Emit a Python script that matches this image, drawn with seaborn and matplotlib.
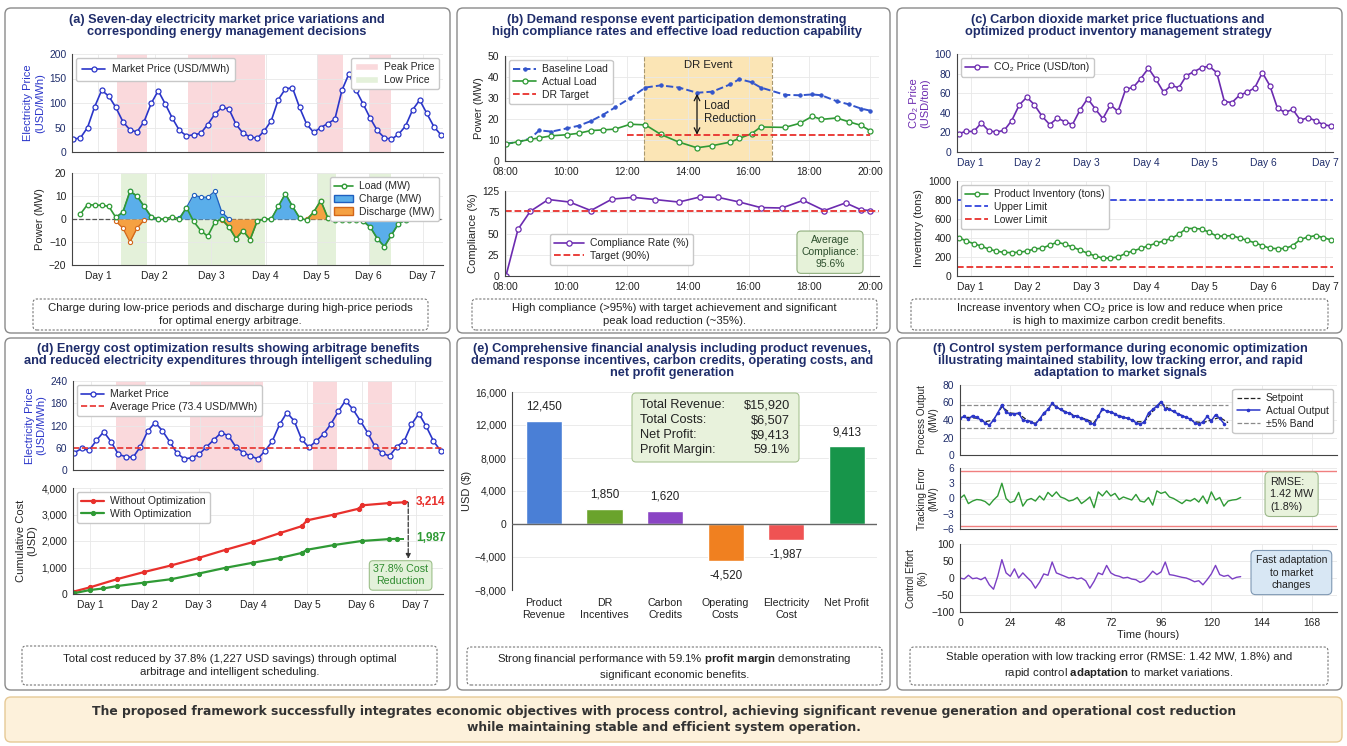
import numpy as np
import matplotlib
matplotlib.use("Agg")
import matplotlib.pyplot as plt
import seaborn as sns
from matplotlib.patches import FancyBboxPatch, Patch
from matplotlib.lines import Line2D
from matplotlib.transforms import Affine2D
from matplotlib.ticker import FuncFormatter

# ---------------- (a) price and storage decisions ----------------
price_a = [26, 29, 50, 92, 126, 114, 91, 62, 45, 41, 62, 99, 125, 98, 69, 44, 33, 35, 38, 56,
           77, 91, 88, 57, 38, 31, 28, 43, 64, 107, 129, 131, 91, 57, 40, 50, 58, 67, 126, 160,
           126, 98, 69, 44, 29, 26, 36, 53, 86, 106, 79, 52, 35]
load_a_start = 1
load_a = [2.2, 6.3, 6, 6, 5.5, 0.7, 3, 12, 10, 5.5, 1, 0, 0, 1, 0, 5, -1, -5, -7.5, -1.5,
          0, -3.5, -8.5, -5, -9, -1, 0, 0, 5.5, 11, 5.5, 0.5, -0.5, 3, 8, 0.5, -0.5, -0.5,
          -0.5, -0.5, -1, -3.5, -8.5, -12, -7, -2, -0.5]
charge_segments = [(6, [0.7, 3, 12, 10, 5.5, 1, 0]),
                   (15, [0.5, 5, 10.5, 9.5, 9.5, 12, 3, 0]),
                   (28, [0, 5.5, 11, 5.5, 0.5]),
                   (41, [-1, -3.5, -8.5, -12, -7, -2, -0.5])]
discharge_segments = [(6, [-1, -4, -10, -4, -0.5]),
                      (21, [-0.5, -3.5, -8.5, -5, -9, -1]),
                      (33, [0, 3, 8, 0.5])]
peak_spans_a = [(6.1, 10.4), (16.2, 27.1), (34.5, 38.2), (41.8, 45.0)]
low_spans_a = [(6.8, 10.4), (16.2, 27.1), (34.5, 37.2), (41.8, 45.0)]
day_labels = ["Day 1", "Day 2", "Day 3", "Day 4", "Day 5", "Day 6", "Day 7"]
day_ticks_a = [3.5, 11.5, 19.5, 27.2, 34.4, 41.8, 49.4]

# ---------------- (b) demand response event ----------------
load_hours = [8.0, 8.4, 8.8, 9.1, 9.5, 10.0, 10.4, 10.8, 11.2, 11.6, 12.1, 12.6, 13.1, 13.7,
              14.3, 14.8, 15.4, 15.7, 16.1, 16.4, 17.2, 17.7, 18.1, 18.4, 18.9, 19.3, 19.7, 20.0]
baseline_load = [8.3, 9, 10.7, 14.6, 14, 15.5, 16.8, 19, 22, 25.5, 30, 35, 36, 35, 32.5, 33,
                 36.5, 39, 37.5, 35, 31.5, 31.3, 31.7, 31.3, 28.5, 27, 25, 24]
actual_load = [8, 9.2, 10.3, 11, 12, 12.5, 13.2, 14.5, 14.8, 15.2, 17.5, 17.2, 12.7, 9, 6.3,
               7.3, 9, 10.8, 13, 16.2, 16, 18, 21.3, 19.8, 20.5, 18.7, 17, 14.5]
dr_target = 12.5
dr_target_start = 12.0
dr_event = (12.56, 16.77)
compliance_hours = [8.0, 8.4, 8.8, 9.4, 10.1, 10.8, 11.5, 12.2, 12.9, 13.7, 14.4, 15.0, 15.7,
                    16.4, 17.1, 17.8, 18.5, 19.2, 19.7, 20.0]
compliance = [0, 55, 76, 90, 87, 77, 90.5, 92.5, 90, 87, 93, 92.5, 87, 80.5, 80, 89, 77, 86,
              78, 77]
compliance_target = 77
hour_ticks = [8, 10, 12, 14, 16, 18, 20]
hour_labels = ["08:00", "10:00", "12:00", "14:00", "16:00", "18:00", "20:00"]
compliance_ticks = [0, 25, 50, 75, 100]
compliance_tick_labels = ["0", "25", "50", "75", "125"]

# ---------------- (c) CO2 price and inventory ----------------
co2_price = [18.8, 21, 21, 29.5, 21.5, 20.5, 22, 32, 48, 56, 48, 36.5, 28, 34.5, 31, 28, 43,
             54.5, 44, 34, 48, 41.5, 64, 66, 75, 85.5, 74, 61, 68, 65.5, 78, 82, 86, 87.5, 81,
             51.5, 50.5, 58, 61, 65.5, 81, 67.5, 44.5, 40.5, 43.5, 32.5, 35, 32, 28, 26.5]
inventory = [403, 370, 340, 315, 282, 262, 248, 246, 250, 262, 285, 292, 325, 355, 335, 305,
             272, 240, 210, 188, 190, 200, 238, 265, 290, 318, 345, 368, 395, 440, 500, 500,
             495, 460, 420, 420, 425, 400, 375, 350, 320, 292, 288, 290, 320, 385, 410, 425,
             405, 380]
inv_upper = 800
inv_lower = 100
day_ticks_c = [1.6, 9.1, 16.8, 24.7, 32.4, 40.1, 48.3]

# ---------------- (d) energy cost optimisation ----------------
price_d = [47, 58, 53, 80, 103, 76, 42, 36, 34, 63, 105, 128, 106, 76, 45, 30, 33, 42, 62, 81,
           100, 93, 63, 47, 38, 30, 51, 78, 123, 155, 132, 83, 61, 78, 97, 124, 158, 187, 164,
           133, 101, 64, 45, 38, 63, 78, 123, 152, 118, 78, 51]
avg_price_level = 60
peak_spans_d = [(5.7, 9.8), (15.8, 25.8), (32.5, 35.9), (40.1, 43.4)]
day_ticks_d = [2.26, 9.67, 17.1, 24.5, 31.8, 39.2, 46.5]
red_days = [0.7, 1.0, 1.5, 2.0, 2.5, 3.0, 3.5, 4.0, 4.5, 4.9, 5.0, 5.5, 5.95, 6.0, 6.5, 6.78]
cost_without = [90, 250, 560, 830, 1080, 1360, 1670, 1960, 2300, 2560, 2780, 3000, 3220, 3345,
                3430, 3460]
green_days = [0.7, 1.0, 1.25, 1.5, 2.0, 2.5, 3.0, 3.5, 4.0, 4.5, 4.9, 5.0, 5.5, 6.0, 6.5, 6.65]
cost_with = [25, 150, 210, 300, 430, 560, 770, 990, 1180, 1360, 1550, 1670, 1850, 2000, 2070,
             2080]

# ---------------- (e) financial breakdown ----------------
fin_categories = ["Product\nRevenue", "DR\nIncentives", "Carbon\nCredits", "Operating\nCosts",
                  "Electricity\nCost", "Net Profit"]
fin_values = [12450, 1850, 1620, -4520, -1987, 9413]
fin_colors = ["#4a7fd6", "#6aa32c", "#8a44c4", "#f08020", "#ef5353", "#17954a"]
summary_rows = [("Total Revenue:", "$15,920"), ("Total Costs:", "$6,507"),
                ("Net Profit:", "$9,413"), ("Profit Margin:", "59.1%")]

# ---------------- (f) control performance ----------------
output_hours = np.arange(0, 128, 2)
process_output = [42, 44, 41, 45, 43, 40, 37, 34, 40, 48, 57, 49, 47, 47, 48, 40, 39, 38, 35, 41,
                  48, 52, 59, 55, 52, 49, 48, 45, 44, 42, 40, 37, 35, 44, 53, 50, 49, 47, 44, 43,
                  42, 40, 37, 35, 38, 48, 52, 56, 61, 53, 52, 50, 47, 45, 43, 41, 37, 35, 38, 44,
                  39, 46, 42, 36]
setpoint_hours = np.arange(0, 129, 4)
setpoint = [43, 43, 42, 38, 40, 55, 48, 47, 40, 36, 46, 58, 52, 48, 44, 41, 37, 52, 49, 45, 42,
            38, 38, 50, 60, 52, 47, 43, 38, 37, 40, 43, 37]
band_upper, band_lower = 57, 31
err_hours = np.arange(0, 136, 2)
tracking_error = [0, 0.7, -1, -0.5, -0.2, -0.3, -0.6, -1.3, -0.3, 0.5, 3, 0, -0.8, -0.5, 1.2,
                  -1.5, -0.3, 0, -0.5, 0.5, -0.3, 1.2, 0.4, 1.3, 0.3, 0, -0.5, -0.3, 0.2, -1,
                  -0.4, 0.3, -1.8, 1.3, 0.5, 1.5, 0.5, 1, -0.2, 0.3, 0, -0.3, 0.8, -0.5, -0.7,
                  0.2, -1.3, 1.5, 1, 1.3, 0.3, 0, -0.5, -1, -0.3, -0.5, 0, -0.7, 0.5, -1, 1.3,
                  -0.3, 0.2, -1.5, -0.5, -0.3, -0.2, 0.2]
error_limit = 5.5
control_effort = [0, -3, 8, -2, 0, -5, 2, -20, -33, 5, 54, 15, 5, 27, 0, 15, 2, -10, -30, -12,
                  12, 8, 47, 15, 10, 5, 0, 2, -3, 0, -8, -30, -10, 15, 10, 37, 15, 8, 5, 0, 2,
                  -3, -5, -13, -8, 5, 20, 10, 18, 47, 10, 8, 5, 2, 0, -5, -11, -8, -20, -5, 12,
                  37, 10, 5, 8, -3, 2, 4]

# ---------------- style ----------------
sns.set_style("whitegrid")
plt.rcParams["font.family"] = ["Liberation Sans", "DejaVu Sans"]
plt.rcParams["mathtext.fontset"] = "custom"
plt.rcParams["mathtext.rm"] = "Liberation Sans"
plt.rcParams["mathtext.bf"] = "Liberation Sans:bold"

BLUE = "#2a35c9"
GREEN = "#2f9a35"
PURPLE = "#6c2bb0"
RED = "#e8302c"
NAVY = "#1f2d6b"
PINK = "#fad9dc"
LIGHTGREEN = "#e4f1da"
TICK = 7.4
LABEL = 8.0
LEGEND = 7.5

W, H = 1347, 746
fig = plt.figure(figsize=(W / 100, H / 100), dpi=100)
PX = Affine2D().scale(1 / W, 1 / H) + fig.transFigure


def box_ax(x0, y0, x1, y1):
    return fig.add_axes([x0 / W, 1 - y1 / H, (x1 - x0) / W, (y1 - y0) / H])


def tidy(ax, tick_color="#222222"):
    ax.grid(True, color="#e8e8e8", lw=0.6)
    ax.set_axisbelow(True)
    for s in ("top", "right"):
        ax.spines[s].set_visible(False)
    for s in ("left", "bottom"):
        ax.spines[s].set_color("#444444")
        ax.spines[s].set_linewidth(0.8)
    ax.tick_params(labelsize=TICK, length=2.5, width=0.6, pad=1.5, colors="#444444",
                   labelcolor=tick_color)


def leg(ax, **kw):
    opts = dict(fontsize=LEGEND, frameon=True, framealpha=1, edgecolor="#c8c8c8",
                borderpad=0.4, labelspacing=0.25, handlelength=2.2, handletextpad=0.6,
                borderaxespad=0.4)
    opts.update(kw)
    return ax.legend(**opts)


def rbox(x0, y0, x1, y1, fc, ec, lw=1.0, ls="-", r=5, z=-5):
    fig.add_artist(FancyBboxPatch((x0, H - y1), x1 - x0, y1 - y0,
                                  boxstyle=f"round,pad=0,rounding_size={r}", transform=PX,
                                  fc=fc, ec=ec, lw=lw, ls=ls, zorder=z))


def title(cx, top, text):
    fig.text(cx / W, 1 - top / H, text, ha="center", va="top", fontsize=9.2,
             fontweight="bold", color=NAVY, linespacing=1.0)


def caption(x0, y0, x1, y1, text):
    rbox(x0, y0, x1, y1, "white", "#777777", lw=0.8, ls=(0, (2, 1.5)), r=4, z=1)
    fig.text((x0 + x1) / 2 / W, 1 - (y0 + y1) / 2 / H, text, ha="center", va="center",
             fontsize=8.2, color="#222222", linespacing=1.4, zorder=2)


def open_line(ax, x, y, color, label=None, ms=3.6, **kw):
    sns.lineplot(x=x, y=y, ax=ax, color=color, linewidth=1.2, marker="o", markersize=ms,
                 markerfacecolor="white", markeredgecolor=color, markeredgewidth=0.9,
                 label=label, legend=False, **kw)


# panel frames
for x0, y0, x1, y1 in [(5, 8, 450, 333), (457, 8, 890, 333), (897, 8, 1342, 333),
                       (5, 338, 450, 690), (457, 338, 890, 690), (897, 338, 1342, 690)]:
    rbox(x0, y0, x1, y1, "white", "#8a8a8a", lw=1.0, r=6, z=-5)

# ================= (a) =================
title(227, 14, "(a) Seven-day electricity market price variations and\n"
               "corresponding energy management decisions")
x_a = np.arange(len(price_a))
ax = box_ax(72, 54, 443, 152)
tidy(ax, NAVY)
for s, e in peak_spans_a:
    ax.axvspan(s, e, color=PINK, lw=0, zorder=0)
open_line(ax, x_a, price_a, BLUE, label="Market Price (USD/MWh)")
ax.set_xlim(-0.2, 52.3)
ax.set_ylim(0, 200)
ax.set_yticks([0, 50, 100, 150, 200])
ax.set_xticks(day_ticks_a)
ax.set_xticklabels([])
ax.set_xlabel("")
ax.set_ylabel("Electricity Price\n(USD/MWh)", color=BLUE, fontsize=LABEL, labelpad=3)
first = leg(ax, loc="upper left", borderpad=0.6)
ax.add_artist(first)
leg(ax, handles=[Patch(fc=PINK, label="Peak Price"), Patch(fc=LIGHTGREEN, label="Low Price")],
    loc="upper right")

ax = box_ax(72, 173, 443, 265)
tidy(ax)
for s, e in low_spans_a:
    ax.axvspan(s, e, color=LIGHTGREEN, lw=0, zorder=0)
ax.axhline(0, color="#555555", lw=0.9, ls="--", zorder=1)
for start, vals in charge_segments:
    xs = np.arange(start, start + len(vals))
    ax.fill_between(xs, 0, vals, color="#5aaeea", lw=0, zorder=2)
    ax.plot(xs, vals, color="#1f5fbf", lw=0.9, marker="o", ms=3, mfc="white", mec="#1f5fbf",
            mew=0.8, zorder=3)
for start, vals in discharge_segments:
    xs = np.arange(start, start + len(vals))
    ax.fill_between(xs, 0, vals, color="#f5a142", lw=0, zorder=2)
    ax.plot(xs, vals, color="#d2661a", lw=0.9, marker="o", ms=3, mfc="white", mec="#d2661a",
            mew=0.8, zorder=3)
x_load = np.arange(load_a_start, load_a_start + len(load_a))
open_line(ax, x_load, load_a, GREEN, ms=3.3, zorder=4)
ax.set_xlim(-0.2, 52.3)
ax.set_ylim(-20, 20)
ax.set_yticks([-20, -10, 0, 10, 20])
ax.set_xticks(day_ticks_a)
ax.set_xticklabels(day_labels)
ax.set_xlabel("")
ax.set_ylabel("Power (MW)", fontsize=LABEL, labelpad=3)
leg(ax, handles=[Line2D([0], [0], color=GREEN, marker="o", ms=3.3, mfc="white", mec=GREEN,
                        lw=1.2, label="Load (MW)"),
                 Patch(fc="#5aaeea", ec="#1f5fbf", label="Charge (MW)"),
                 Patch(fc="#f5a142", ec="#d2661a", label="Discharge (MW)")],
    loc="upper right", handlelength=1.8)
caption(33, 299, 428, 330, "Charge during low-price periods and discharge during high-price periods\n"
                           "for optimal energy arbitrage.")

# ================= (b) =================
title(677, 14, "(b) Demand response event participation demonstrating\n"
               "high compliance rates and effective load reduction capability")
ax = box_ax(505, 56, 879, 161)
tidy(ax)
ax.axvspan(*dr_event, color="#fbe5b5", lw=0, zorder=0)
for xv in dr_event:
    ax.axvline(xv, color="#a89870", lw=0.8, ls="--", zorder=1)
sns.lineplot(x=load_hours, y=baseline_load, ax=ax, color="#3355cc", linewidth=1.4,
             linestyle="--", marker="o", markersize=2.4, markerfacecolor="#3355cc",
             markeredgecolor="#3355cc", label="Baseline Load", legend=False)
open_line(ax, load_hours, actual_load, GREEN, label="Actual Load", ms=3.6)
ax.hlines(dr_target, dr_target_start, 20.0, color=RED, lw=1.3, ls="--", label="DR Target")
ax.annotate("", xy=(14.3, dr_target), xytext=(14.3, 32.0),
            arrowprops=dict(arrowstyle="<->", color="#111111", lw=0.9, shrinkA=0, shrinkB=0))
ax.text(14.53, 23.2, "Load\nReduction", fontsize=8.3, va="center", ha="left", color="#222222",
        linespacing=1.1)
ax.text(sum(dr_event) / 2, 45.5, "DR Event", fontsize=8.2, ha="center", va="center",
        color="#222222")
ax.set_xlim(7.97, 20.3)
ax.set_ylim(0, 50)
ax.set_yticks([0, 10, 20, 30, 40, 50])
ax.set_xticks(hour_ticks)
ax.set_xticklabels(hour_labels)
ax.set_xlabel("")
ax.set_ylabel("Power (MW)", fontsize=LABEL, labelpad=3)
leg(ax, loc="upper left")

ax = box_ax(505, 191, 879, 276)
tidy(ax)
open_line(ax, compliance_hours, compliance, PURPLE, label="Compliance Rate (%)", ms=3.8)
ax.axhline(compliance_target, color=RED, lw=1.3, ls="--", label="Target (90%)")
ax.set_xlim(7.97, 20.3)
ax.set_ylim(0, 100)
ax.set_yticks(compliance_ticks)
ax.set_yticklabels(compliance_tick_labels)
ax.set_xticks(hour_ticks)
ax.set_xticklabels(hour_labels)
ax.set_xlabel("")
ax.set_ylabel("Compliance (%)", fontsize=LABEL, labelpad=3)
leg(ax, loc="lower left", bbox_to_anchor=(0.11, 0.08), handlelength=2.8)
ax.text(0.869, 0.28, "Average\nCompliance:\n95.6%", transform=ax.transAxes, ha="center",
        va="center", fontsize=7.5, color="#2d4f2d", linespacing=1.25,
        bbox=dict(boxstyle="round,pad=0.4", fc="#e6f2d9", ec="#8fae7c", lw=0.8))
caption(472, 299, 877, 330, "High compliance (>95%) with target achievement and significant\n"
                            "peak load reduction (~35%).")

# ================= (c) =================
title(1118, 14, "(c) Carbon dioxide market price fluctuations and\n"
                "optimized product inventory management strategy")
x_c = np.arange(len(co2_price))
ax = box_ax(957, 54, 1333, 152)
tidy(ax, NAVY)
open_line(ax, x_c, co2_price, PURPLE, label="CO\u2082 Price (USD/ton)")
ax.set_xlim(-0.2, 49.3)
ax.set_ylim(0, 100)
ax.set_yticks([0, 20, 40, 60, 80, 100])
ax.set_xticks(day_ticks_c)
ax.set_xticklabels(day_labels)
ax.set_xlabel("")
ax.set_ylabel("CO\u2082 Price\n(USD/ton)", color=PURPLE, fontsize=LABEL, labelpad=3)
leg(ax, loc="upper left")

ax = box_ax(957, 181, 1333, 276)
tidy(ax)
ax.axhline(inv_upper, color="#3344dd", lw=1.3, ls="--", label="Upper Limit")
ax.axhline(inv_lower, color=RED, lw=1.3, ls="--", label="Lower Limit")
open_line(ax, np.arange(len(inventory)), inventory, GREEN, label="Product Inventory (tons)",
          ms=3.4)
ax.set_xlim(-0.2, 49.3)
ax.set_ylim(0, 1000)
ax.set_yticks([0, 200, 400, 600, 800, 1000])
ax.set_xticks(day_ticks_c)
ax.set_xticklabels(day_labels)
ax.set_xlabel("")
ax.set_ylabel("Inventory (tons)", fontsize=LABEL, labelpad=3)
h, l = ax.get_legend_handles_labels()
order = [l.index("Product Inventory (tons)"), l.index("Upper Limit"), l.index("Lower Limit")]
leg(ax, handles=[h[i] for i in order], labels=[l[i] for i in order], loc="upper left")
caption(911, 299, 1328, 330, "Increase inventory when CO\u2082 price is low and reduce when price\n"
                             "is high to maximize carbon credit benefits.")

# ================= (d) =================
title(228, 343, "(d) Energy cost optimization results showing arbitrage benefits\n"
                "and reduced electricity expenditures through intelligent scheduling")
ax = box_ax(73, 381, 443, 470)
tidy(ax, NAVY)
for s, e in peak_spans_d:
    ax.axvspan(s, e, color=PINK, lw=0, zorder=0)
open_line(ax, np.arange(len(price_d)), price_d, BLUE, label="Market Price")
ax.axhline(avg_price_level, color=RED, lw=1.2, ls="--", label="Average Price (73.4 USD/MWh)")
ax.set_xlim(-0.2, 50.3)
ax.set_ylim(0, 240)
ax.set_yticks([0, 60, 120, 180, 240])
ax.set_xticks(day_ticks_d)
ax.set_xticklabels([])
ax.set_xlabel("")
ax.set_ylabel("Electricity Price\n(USD/MWh)", color=BLUE, fontsize=LABEL, labelpad=3)
leg(ax, loc="upper left")

ax = box_ax(73, 488, 443, 594)
tidy(ax)
sns.lineplot(x=red_days, y=cost_without, ax=ax, color=RED, linewidth=1.6, marker="o",
             markersize=3, markerfacecolor=RED, markeredgecolor=RED,
             label="Without Optimization", legend=False)
sns.lineplot(x=green_days, y=cost_with, ax=ax, color=GREEN, linewidth=1.6, marker="o",
             markersize=3, markerfacecolor=GREEN, markeredgecolor=GREEN,
             label="With Optimization", legend=False)
ax.plot([red_days[-1], 6.86], [cost_without[-1]] * 2, color=RED, lw=1.4, ls="--")
ax.plot([green_days[-1], 6.78], [cost_with[-1]] * 2, color=GREEN, lw=1.4, ls="--")
ax.annotate("", xy=(6.86, 1330), xytext=(6.86, cost_without[-1]),
            arrowprops=dict(arrowstyle="-|>", ls="--", color="#333333", lw=0.9,
                            shrinkA=0, shrinkB=0, mutation_scale=7))
ax.text(7.0, cost_without[-1], "3,214", color=RED, fontweight="bold", fontsize=8.5,
        va="center", ha="left")
ax.text(7.0, cost_with[-1] + 30, "1,987", color=GREEN, fontweight="bold", fontsize=8.5,
        va="center", ha="left")
ax.text(6.72, 700, "37.8% Cost\nReduction", ha="center", va="center", fontsize=7.7,
        color="#2e8b2e", linespacing=1.25,
        bbox=dict(boxstyle="round,pad=0.35", fc="#e3f1da", ec="#9cc08a", lw=0.8))
ax.set_xlim(0.69, 7.5)
ax.set_ylim(0, 4000)
ax.set_yticks([0, 1000, 2000, 3000, 4000])
ax.yaxis.set_major_formatter(FuncFormatter(lambda v, p: f"{v:,.0f}"))
ax.set_xticks([1, 2, 3, 4, 5, 6, 7])
ax.set_xticklabels(day_labels)
ax.set_xlabel("")
ax.set_ylabel("Cumulative Cost\n(USD)", fontsize=LABEL, labelpad=3)
leg(ax, loc="upper left")
caption(22, 646, 437, 685, "Total cost reduced by 37.8% (1,227 USD savings) through optimal\n"
                           "arbitrage and intelligent scheduling.")

# ================= (e) =================
title(672, 343, "(e) Comprehensive financial analysis including product revenues,\n"
                "demand response incentives, carbon credits, operating costs, and\n"
                "net profit generation")
ax = box_ax(512, 392, 877, 590)
tidy(ax)
sns.barplot(x=fin_categories, y=fin_values, hue=fin_categories, palette=fin_colors,
            saturation=1, width=0.6, legend=False, ax=ax, zorder=3)
ax.axhline(0, color="#666666", lw=1.0, zorder=4)
ax.grid(False, axis="x")
ax.spines["bottom"].set_visible(False)
ax.tick_params(axis="x", length=0, pad=6, labelsize=7.7)
ax.set_xlim(-0.53, 5.5)
ax.set_ylim(-8000, 16000)
ax.set_yticks(range(-8000, 16001, 4000))
ax.yaxis.set_major_formatter(FuncFormatter(lambda v, p: f"{v:,.0f}".replace("-", "\u2212")))
ax.set_xlabel("")
ax.set_ylabel("USD ($)", fontsize=LABEL, labelpad=2)
for i, v in enumerate(fin_values):
    ax.annotate(f"{v:,}", (i, v), xytext=(0, 6 if v > 0 else -6), textcoords="offset points",
                ha="center", va="bottom" if v > 0 else "top", fontsize=8.4, color="#222222")
rbox(632, 393, 799, 462, "#e8f2dc", "#a9c493", lw=0.8, r=4, z=5)
for k, (name, val) in enumerate(summary_rows):
    y = 405 + 15 * k
    fig.text(640 / W, 1 - y / H, name, ha="left", va="center", fontsize=9.2, color="#222222",
             zorder=6)
    fig.text(790 / W, 1 - y / H, val, ha="right", va="center", fontsize=9.2, color="#222222",
             zorder=6)
caption(467, 647, 882, 685, "Strong financial performance with 59.1% $\\mathbf{profit\\ margin}$ "
                            "demonstrating\nsignificant economic benefits.")

# ================= (f) =================
title(1120, 343, "(f) Control system performance during economic optimization\n"
                 "illustrating maintained stability, low tracking error, and rapid\n"
                 "adaptation to market signals")
time_ticks = [0, 24, 48, 72, 96, 120, 144, 168]

ax = box_ax(960, 385, 1337, 455)
tidy(ax, NAVY)
ax.hlines([band_upper, band_lower], 0, 128, colors="#8a8a8a", linestyles="--", lw=0.9,
          label="\u00b15% Band")
sns.lineplot(x=setpoint_hours, y=setpoint, ax=ax, color="#222222", linewidth=0.9,
             linestyle="--", label="Setpoint", legend=False)
sns.lineplot(x=output_hours, y=process_output, ax=ax, color=BLUE, linewidth=1.1, marker="o",
             markersize=1.8, markerfacecolor=BLUE, markeredgecolor=BLUE,
             label="Actual Output", legend=False)
ax.set_xlim(0, 180)
ax.set_ylim(0, 80)
ax.set_yticks([0, 20, 40, 60, 80])
ax.set_xticks(time_ticks)
ax.set_xticklabels([])
ax.set_xlabel("")
ax.set_ylabel("Process Output\n(MW)", fontsize=7.2, labelpad=3)
h, l = ax.get_legend_handles_labels()
order = [l.index("Setpoint"), l.index("Actual Output"), l.index("\u00b15% Band")]
leg(ax, handles=[h[i] for i in order], labels=[l[i] for i in order], loc="upper right")

ax = box_ax(960, 468, 1337, 529)
tidy(ax, NAVY)
ax.axhline(error_limit, color="#f07f7f", lw=1.0)
ax.axhline(-error_limit, color="#f07f7f", lw=1.0)
sns.lineplot(x=err_hours, y=tracking_error, ax=ax, color=GREEN, linewidth=1.0, legend=False)
ax.set_xlim(0, 180)
ax.set_ylim(-6, 6)
ax.set_yticks([-6, -3, 0, 3, 6])
ax.set_xticks(time_ticks)
ax.set_xticklabels([])
ax.set_xlabel("")
ax.set_ylabel("Tracking Error\n(MW)", fontsize=7.2, labelpad=3)
ax.text(0.822, 0.57, "RMSE:\n1.42 MW\n(1.8%)", transform=ax.transAxes, ha="left", va="center",
        fontsize=7.8, color="#222222", linespacing=1.3,
        bbox=dict(boxstyle="round,pad=0.45", fc="#e8f2dc", ec="#9cb88a", lw=0.8))

ax = box_ax(960, 544, 1337, 612)
tidy(ax)
sns.lineplot(x=err_hours, y=control_effort, ax=ax, color="#7b3fc4", linewidth=1.0, legend=False)
ax.set_xlim(0, 180)
ax.set_ylim(-100, 100)
ax.set_yticks([-100, -50, 0, 50, 100])
ax.set_xticks(time_ticks)
ax.set_xlabel("Time (hours)", fontsize=7.9, labelpad=2)
ax.set_ylabel("Control Effort\n(%)", fontsize=7.2, labelpad=3)
ax.text(0.879, 0.58, "Fast adaptation\nto market\nchanges", transform=ax.transAxes,
        ha="center", va="center", fontsize=7.5, color="#222222", linespacing=1.3,
        bbox=dict(boxstyle="round,pad=0.45", fc="#d8e7f4", ec="#7f98b3", lw=0.8))
caption(910, 647, 1328, 685, "Stable operation with low tracking error (RMSE: 1.42 MW, 1.8%) and\n"
                             "rapid control $\\mathbf{adaptation}$ to market variations.")

# ================= footer =================
rbox(5, 697, 1342, 742, "#fdf1db", "#e6c995", lw=1.0, r=6, z=-5)
fig.text(664 / W, 1 - 719 / H,
         "The proposed framework successfully integrates economic objectives with process control, "
         "achieving significant revenue generation and operational cost reduction\n"
         "while maintaining stable and efficient system operation.",
         ha="center", va="center", fontsize=8.95, fontweight="bold", color="#333333",
         family=["DejaVu Sans"], linespacing=1.3)

fig.savefig("out.png", dpi=100, facecolor="white")
